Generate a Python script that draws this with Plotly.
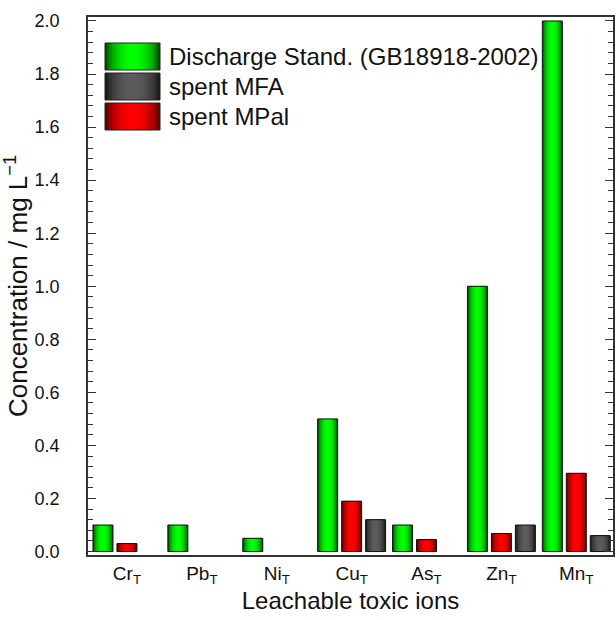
import math
import plotly.graph_objects as go

# Leachable ion concentrations (mg/L)
ions = ["Cr", "Pb", "Ni", "Cu", "As", "Zn", "Mn"]
tick_labels = [f"{s}<sub>T</sub>" for s in ions]
discharge_std = [0.10, 0.10, 0.05, 0.50, 0.10, 1.00, 2.00]
spent_mpal = [0.03, None, None, 0.19, 0.045, 0.068, 0.295]
spent_mfa = [None, None, None, 0.12, None, 0.10, 0.06]

series_names = ["Discharge Stand. (GB18918-2002)", "spent MFA", "spent MPal"]

# plot-area geometry (pixels) used to place the hand-built legend
W, H = 616, 620
L, R, T, B = 88, 3, 17, 65
PW, PH = W - L - R, H - T - B

BAR_W = 0.267      # bar width in category units
SLOT = 0.32        # centre-to-centre distance of neighbouring bars
N_LAYERS = 12      # layers used to fake the cylindrical shading


def hex2rgb(h):
    h = h.lstrip("#")
    return tuple(int(h[i:i + 2], 16) for i in (0, 2, 4))


def mix(c1, c2, t):
    a, b = hex2rgb(c1), hex2rgb(c2)
    return "rgb({},{},{})".format(*[round(a[i] + (b[i] - a[i]) * t) for i in range(3)])


def shade(u):
    # brightness across the bar: dark at the edges, bright in the middle
    return math.sin(math.pi * min(u, 0.5)) ** 0.55


styles = {
    "Discharge Stand. (GB18918-2002)": dict(edge="#031a03", centre="#00ff00", slot=-SLOT, y=discharge_std),
    "spent MPal": dict(edge="#2a0000", centre="#ff0000", slot=0.0, y=spent_mpal),
    "spent MFA": dict(edge="#050505", centre="#5c5c5c", slot=SLOT, y=spent_mfa),
}

x = list(range(len(ions)))
fig = go.Figure()

for name in ["Discharge Stand. (GB18918-2002)", "spent MPal", "spent MFA"]:
    st = styles[name]
    for k in range(N_LAYERS):
        u0 = k * 0.5 / N_LAYERS
        w = BAR_W * (1 - 2 * u0)
        col = mix(st["edge"], st["centre"], shade(u0 + 0.25 / N_LAYERS))
        fig.add_trace(go.Bar(
            x=x, y=st["y"], width=w, offset=st["slot"] - w / 2,
            marker=dict(color=col, line=dict(width=0)),
            showlegend=False, hoverinfo="skip", name=name,
        ))
    # thin dark outline on top of the shading
    fig.add_trace(go.Bar(
        x=x, y=st["y"], width=BAR_W, offset=st["slot"] - BAR_W / 2,
        marker=dict(color="rgba(0,0,0,0)", line=dict(width=1, color="#111")),
        showlegend=False, hoverinfo="skip", name=name,
    ))


def px2paper(px, py):
    return (px - L) / PW, (H - B - py) / PH


# legend: shaded swatches + labels
shapes, annotations = [], []
sw_x0, sw_x1, sw_h, pitch, top0 = 105, 160, 27, 30, 43
for i, name in enumerate(series_names):
    st = styles[name]
    y0p, y1p = top0 + i * pitch, top0 + i * pitch + sw_h
    for k in range(N_LAYERS):
        u0 = k * 0.5 / N_LAYERS
        half = (sw_x1 - sw_x0) * (1 - 2 * u0) / 2
        cx = (sw_x0 + sw_x1) / 2
        ax, ay = px2paper(cx - half, y1p)
        bx, by = px2paper(cx + half, y0p)
        shapes.append(dict(type="rect", xref="paper", yref="paper", x0=ax, y0=ay, x1=bx, y1=by,
                           fillcolor=mix(st["edge"], st["centre"], shade(u0 + 0.25 / N_LAYERS)),
                           line=dict(width=0), layer="above"))
    ax, ay = px2paper(sw_x0, y1p)
    bx, by = px2paper(sw_x1, y0p)
    shapes.append(dict(type="rect", xref="paper", yref="paper", x0=ax, y0=ay, x1=bx, y1=by,
                       fillcolor="rgba(0,0,0,0)", line=dict(width=1, color="#222"), layer="above"))
    tx, ty = px2paper(167, (y0p + y1p) / 2)
    annotations.append(dict(text=name, x=tx, y=ty, xref="paper", yref="paper",
                            xanchor="left", yanchor="middle", showarrow=False,
                            font=dict(size=24, color="#111")))

fig.update_layout(
    width=W, height=H,
    margin=dict(l=L, r=R, t=T, b=B),
    paper_bgcolor="white", plot_bgcolor="white",
    barmode="overlay", showlegend=False,
    font=dict(family="Liberation Sans, Arial, sans-serif", size=18, color="#111"),
    shapes=shapes, annotations=annotations,
)

fig.update_xaxes(
    range=[-0.52, 6.49], tickvals=x, ticktext=tick_labels,
    ticks="", showline=True, linecolor="#333", linewidth=1.5, mirror=True,
    showgrid=False, zeroline=False, automargin=False,
    tickfont=dict(size=19),
    title=dict(text="Leachable toxic ions", font=dict(size=24), standoff=6),
)
fig.update_yaxes(
    range=[-0.013, 2.015], tick0=0, dtick=0.2, tickformat=".1f",
    ticks="inside", ticklen=8, tickwidth=1.3, tickcolor="#333",
    minor=dict(ticks="inside", ticklen=5, tick0=0, dtick=0.04, tickcolor="#333", tickwidth=1.1),
    showline=True, mirror="ticks", linecolor="#333", linewidth=1.5,
    showgrid=False, zeroline=False, ticklabelstandoff=23, automargin=False,
    tickfont=dict(size=18),
    title=dict(text="Concentration / mg L<sup>−1</sup>", font=dict(size=26), standoff=1),
)

fig.write_html("out.html")
